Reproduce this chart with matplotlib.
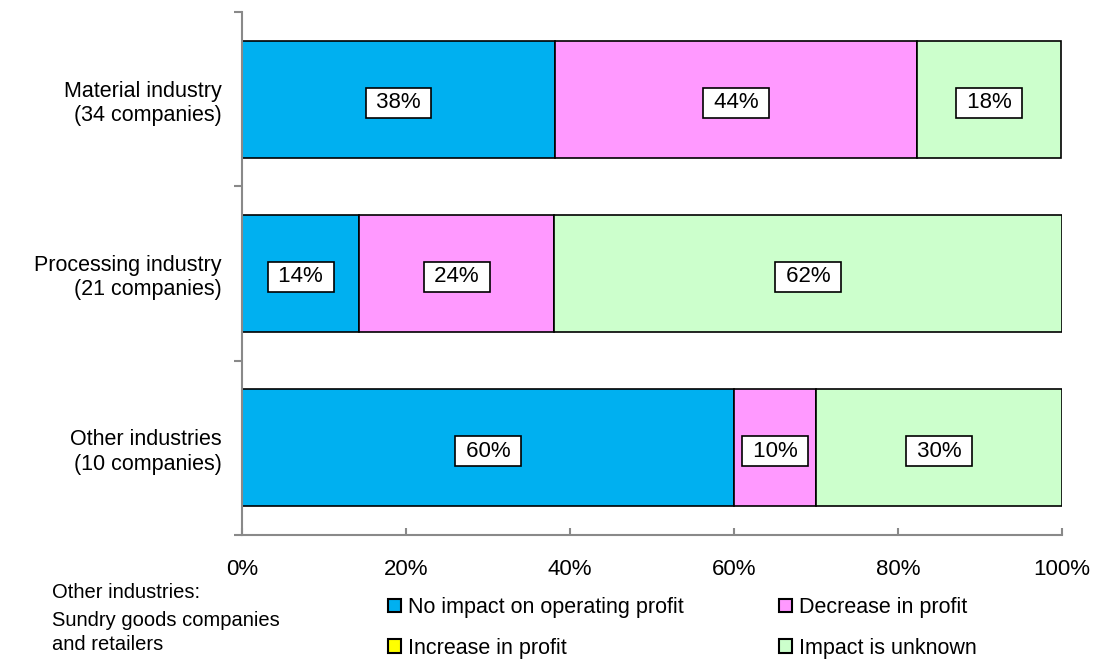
import matplotlib.pyplot as plt
from matplotlib.patches import Patch
import numpy as np

# data (share of companies, %)
categories = ["Other industries\n(10 companies)",
              "Processing industry\n(21 companies)",
              "Material industry\n(34 companies)"]
series_names = ["No impact on operating profit", "Decrease in profit",
                "Increase in profit", "Impact is unknown"]
no_impact = [60.0, 14.3, 38.2]
decrease = [10.0, 23.8, 44.1]
increase = [0.0, 0.0, 0.0]
unknown = [30.0, 61.9, 17.6]
x_ticks = [0, 20, 40, 60, 80, 100]

colors = ["#00B0F0", "#FF99FF", "#FFFF00", "#CCFFCC"]
values = [no_impact, decrease, increase, unknown]

plt.rcParams['font.family'] = ['Liberation Sans', 'DejaVu Sans']

fig = plt.figure(figsize=(10.95, 6.6), dpi=100)
ax = fig.add_axes([242 / 1095, 125 / 660, 820 / 1095, 523 / 660])

y = np.arange(len(categories))
left = np.zeros(len(categories))
for name, vals, col in zip(series_names, values, colors):
    vals = np.array(vals)
    ax.barh(y, vals, left=left, height=0.67, color=col, edgecolor="black",
            linewidth=1.2, label=name)
    for yi, l, v in zip(y, left, vals):
        if v > 0:
            ax.text(l + v / 2, yi - 0.02, f" {v:.0f}% ", ha="center",
                    va="center", fontsize=16,
                    bbox=dict(boxstyle="square,pad=0.2", fc="white",
                              ec="black", lw=1.2))
    left += vals

ax.set_xlim(0, 100)
ax.set_ylim(-0.5, 2.5)
ax.set_xticks(x_ticks)
ax.set_xticklabels([f"{t}%" for t in x_ticks], fontsize=16)
ax.tick_params(axis="x", direction="in", length=5, width=1.5, color="#898989",
               pad=17)
ax.set_yticks([-0.5, 0.5, 1.5, 2.5])
ax.set_yticklabels([])
ax.tick_params(axis="y", which="major", direction="out", length=6, width=1.5,
               color="#898989")
ax.set_yticks(y, minor=True)
ax.set_yticklabels(categories, minor=True, fontsize=15.5)
ax.tick_params(axis="y", which="minor", length=0, pad=14.5)

for s in ["top", "right"]:
    ax.spines[s].set_visible(False)
for s in ["left", "bottom"]:
    ax.spines[s].set_color("#898989")
    ax.spines[s].set_linewidth(1.5)

note = ["Other industries:", "Sundry goods companies", "and retailers"]
for line, ypx in zip(note, [593, 620, 645]):
    fig.text(52 / 1095, 1 - ypx / 660, line, fontsize=14.5, va="center")

# legend order so rows read: no impact / decrease, increase / unknown
order = [0, 2, 1, 3]
handles = [Patch(facecolor=colors[i], edgecolor="black", linewidth=1.5)
           for i in order]
labels = [series_names[i] for i in order]
fig.legend(handles, labels, ncol=2, loc="center left",
           bbox_to_anchor=(388 / 1095, 1 - 628 / 660), frameon=False,
           fontsize=15.5, handlelength=0.6, handleheight=0.6,
           handletextpad=0.35, columnspacing=4.4, labelspacing=0.92,
           borderpad=0, borderaxespad=0)

fig.savefig("out.png", dpi=100)
